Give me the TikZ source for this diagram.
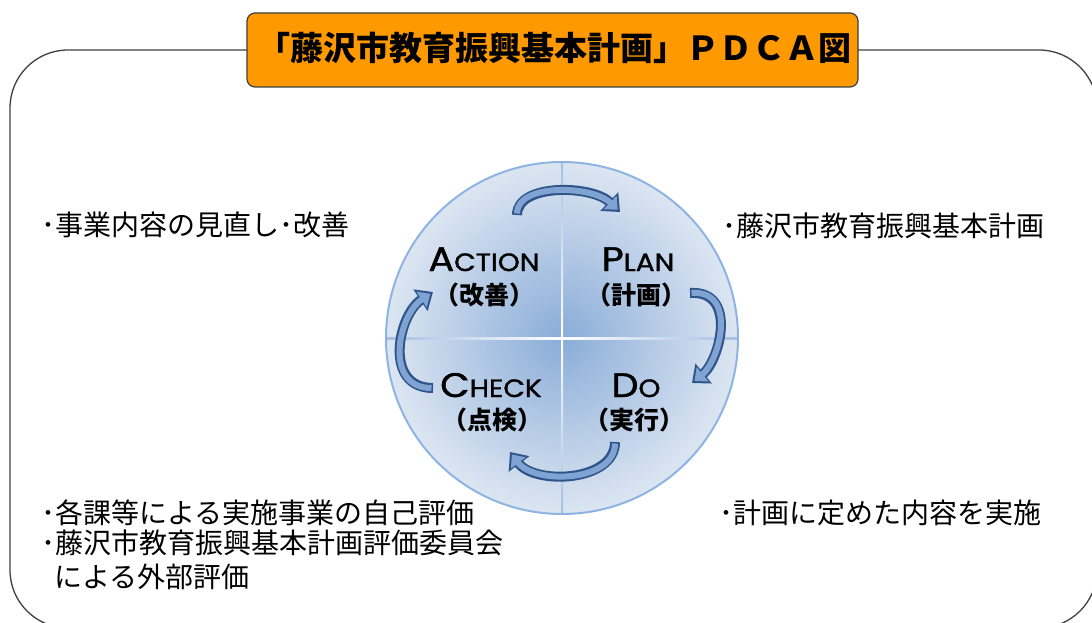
\documentclass[tikz,border=0pt]{standalone}
\usepackage{fontspec}
\setmainfont{Noto Sans CJK JP}
\newfontfamily\latf[FakeBold=1.2]{Poppins}
\usetikzlibrary{arrows.meta}
\definecolor{orng}{HTML}{FF9900}
\definecolor{tborder}{HTML}{3F3F3F}
\definecolor{framec}{HTML}{404040}
\definecolor{cin}{HTML}{8AACD8}
\definecolor{cout}{HTML}{DCE6F2}
\definecolor{cborder}{HTML}{8DB4E2}
\definecolor{ledge}{HTML}{A6C0E2}
\definecolor{arrdark}{HTML}{2F5488}
\definecolor{arrfill}{HTML}{7FA3D2}
\tikzset{
  framebox/.style={draw=framec, line width=1.3pt, rounded corners=58pt},
  titlebox/.style={draw=tborder, line width=1.2pt, fill=orng, rounded corners=8pt,
    minimum width=611pt, minimum height=74pt, inner sep=0pt},
  sidetext/.style={anchor=west, inner sep=0pt, font=\fontsize{28}{28}\selectfont},
  jplabel/.style={inner sep=0pt, font=\bfseries\fontsize{25}{25}\selectfont},
  latlabel/.style={anchor=base, inner sep=0pt, xscale=1.12},
  arrout/.style={draw=arrdark, line width=10pt, -{Triangle[width=25pt,length=15pt]}},
  arrin/.style={draw=arrfill, line width=6pt, shorten >=3.2pt, shorten <=1.5pt,
    -{Triangle[width=18pt,length=10.5pt]}}
}
\newcommand{\bigA}[2]{{\latf\fontsize{34}{34}\selectfont #1\fontsize{25}{25}\selectfont #2}}
\begin{document}
\begin{tikzpicture}[x=1pt,y=-1pt]
\useasboundingbox (0,0) rectangle (1092,623);
% outer frame
\draw[framebox] (10,50) rectangle (1097,628);
% title
\node[titlebox] (title) at (552.5,50) {};
\node[inner sep=0pt, font=\bfseries\fontsize{33}{33}\selectfont] (titletext) at (554,48)
  {「藤沢市教育振興基本計画」ＰＤＣＡ図};
% circle
\shade[inner color=cin, outer color=cout] (562,338) circle (176);
\shade[left color=ledge, right color=white] (387,337) rectangle (562,339.2);
\shade[left color=white, right color=ledge] (562,337) rectangle (737,339.2);
\shade[top color=ledge, bottom color=white] (561,163) rectangle (563.2,338);
\shade[top color=white, bottom color=ledge] (561,338) rectangle (563.2,513);
\draw[cborder, line width=2pt] (562,338) circle (176);
% cycle arrows
\foreach \st in {arrout, arrin}{
  \draw[\st] (517,215) .. controls (517,183) and (592,185) .. (620,212);
  \draw[\st] (690,293) .. controls (738,290) and (720,360) .. (692,383);
  \draw[\st] (615,442) .. controls (615,482) and (535,485) .. (510,452);
  \draw[\st] (433,388) .. controls (383,388) and (398,315) .. (433,292);
}
% labels in circle
\node[latlabel] (action) at (484,271) {\bigA{A}{CTION}};
\node[jplabel] (actionjp) at (484,295) {（改善）};
\node[latlabel] (plan) at (638,271) {\bigA{P}{LAN}};
\node[jplabel] (planjp) at (636,295) {（計画）};
\node[latlabel] (check) at (491,397) {\bigA{C}{HECK}};
\node[jplabel] (checkjp) at (492,420) {（点検）};
\node[latlabel] (do) at (636,397) {\bigA{D}{O}};
\node[jplabel] (dojp) at (634,420) {（実行）};
% side texts
\node[sidetext] (acttext) at (41,225) {･事業内容の見直し･改善};
\node[sidetext] (plantext) at (722,226) {･藤沢市教育振興基本計画};
\node[sidetext] (dotext) at (719,513) {･計画に定めた内容を実施};
\node[sidetext] (chk1) at (41,513) {･各課等による実施事業の自己評価};
\node[sidetext] (chk2) at (41,543) {･藤沢市教育振興基本計画評価委員会};
\node[sidetext] (chk3) at (54,577) {による外部評価};
\end{tikzpicture}
\end{document}
